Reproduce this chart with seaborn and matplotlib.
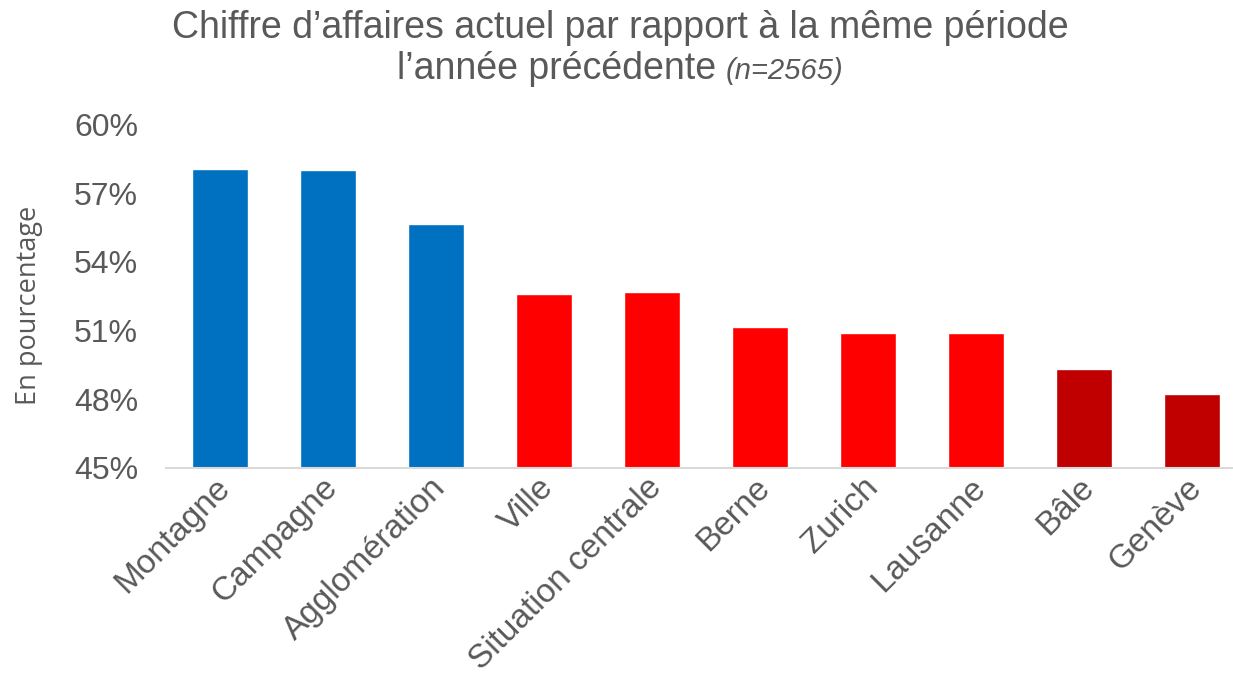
import matplotlib
matplotlib.use("Agg")
import matplotlib.pyplot as plt
import matplotlib.ticker as mticker
import matplotlib.transforms as mtransforms
import pandas as pd
import seaborn as sns

# values (percent)
categories = ["Montagne", "Campagne", "Agglomération", "Ville", "Situation centrale",
              "Berne", "Zurich", "Lausanne", "Bâle", "Genève"]
values = [58.05, 58.0, 55.65, 52.6, 52.68, 51.17, 50.87, 50.87, 49.3, 48.23]
groups = ["type", "type", "type", "centre", "centre",
          "ville", "ville", "ville", "ville_bas", "ville_bas"]
palette = {"type": "#0070C0", "centre": "#FF0000", "ville": "#FF0000", "ville_bas": "#C00000"}
y_ticks = [45, 48, 51, 54, 57, 60]

grey = "#595959"
df = pd.DataFrame({"cat": categories, "val": values, "grp": groups})

sns.set_theme(style="white")
plt.rcParams["font.family"] = ["Liberation Sans", "DejaVu Sans"]

fig = plt.figure(figsize=(12.33, 6.82), dpi=100)
ax = fig.add_axes([166 / 1233, 214.3 / 682, 1080 / 1233, 343.2 / 682])

sns.barplot(data=df, x="cat", y="val", hue="grp", palette=palette, dodge=False,
            width=0.51, legend=False, ax=ax, saturation=1)

ax.set_ylim(45, 60)
ax.set_xlim(-0.5, len(categories) - 0.5)
ax.set_yticks(y_ticks)
ax.yaxis.set_major_formatter(mticker.FuncFormatter(lambda v, p: f"{v:.0f}%"))
ax.tick_params(axis="y", labelsize=23, colors=grey, length=0, pad=20)
ax.tick_params(axis="x", labelsize=24, colors=grey, length=0, pad=11)
shift = mtransforms.ScaledTranslation(5 / 100, 0, fig.dpi_scale_trans)
for lab in ax.get_xticklabels():
    lab.set_rotation(45)
    lab.set_ha("right")
    lab.set_va("center")
    lab.set_rotation_mode("anchor")
    lab.set_transform(lab.get_transform() + shift)

for side in ["top", "right", "left"]:
    ax.spines[side].set_visible(False)
ax.spines["bottom"].set_color("#D9D9D9")
ax.spines["bottom"].set_linewidth(1.5)

ax.set_xlabel("")
ax.set_ylabel("En pourcentage", fontsize=19.5, color=grey, family=["Open Sans", "DejaVu Sans"])
ax.yaxis.set_label_coords(-123 / 1080, 0.474)

# title, two lines, second one with an italic sample size
fig.text(0.503, 1 - 38 / 682, "Chiffre d’affaires actuel par rapport à la même période",
         ha="center", va="baseline", fontsize=27, color=grey)
t1 = fig.text(0, 1 - 79 / 682, "l’année précédente ", ha="left", va="baseline",
              fontsize=27, color=grey)
t2 = fig.text(0, 1 - 79 / 682, "(n=2565)", ha="left", va="baseline",
              fontsize=21, style="italic", color=grey)
fig.canvas.draw()
r = fig.canvas.get_renderer()
w1 = t1.get_window_extent(r).width / 1233
w2 = t2.get_window_extent(r).width / 1233
x0 = 0.503 - (w1 + w2) / 2
t1.set_x(x0)
t2.set_x(x0 + w1)

fig.savefig("out.png", dpi=100)
